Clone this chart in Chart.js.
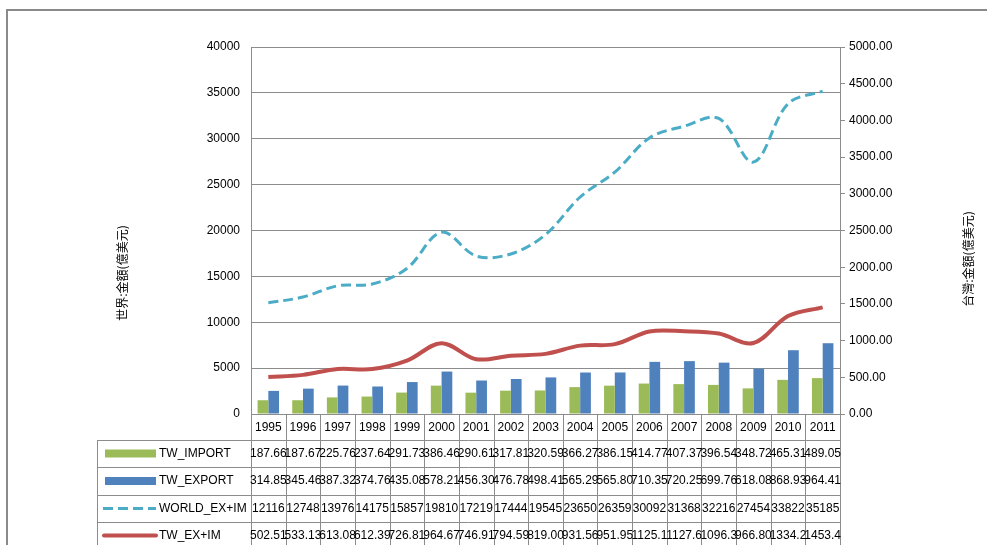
<!DOCTYPE html>
<html>
<head>
<meta charset="utf-8">
<script src="https://cdn.jsdelivr.net/npm/chart.js@4.4.0/dist/chart.umd.min.js"></script>
<style>
  html, body { margin: 0; padding: 0; background: #fff; }
  #wrap { width: 987px; height: 545px; position: relative; }
</style>
</head>
<body>
<div id="wrap"><canvas id="trade"></canvas></div>
<script>
const years = ['1995', '1996', '1997', '1998', '1999', '2000', '2001', '2002', '2003',
               '2004', '2005', '2006', '2007', '2008', '2009', '2010', '2011'];
const twImport = [187.66, 187.67, 225.76, 237.64, 291.73, 386.46, 290.61, 317.81, 320.59,
                  366.27, 386.15, 414.77, 407.37, 396.54, 348.72, 465.31, 489.05];
const twExport = [314.85, 345.46, 387.32, 374.76, 435.08, 578.21, 456.30, 476.78, 498.41,
                  565.29, 565.80, 710.35, 720.25, 699.76, 618.08, 868.93, 964.41];
const worldTotal = [12116, 12748, 13976, 14175, 15857, 19810, 17219, 17444, 19545,
                    23650, 26359, 30092, 31368, 32216, 27454, 33822, 35185];
const twTotal = [502.51, 533.13, 613.08, 612.39, 726.81, 964.67, 746.91, 794.59, 819.00,
                 931.56, 951.95, 1125.12, 1127.62, 1096.30, 966.80, 1334.24, 1453.46];

const seriesNames = ['TW_IMPORT', 'TW_EXPORT', 'WORLD_EX+IM', 'TW_EX+IM'];
const leftTitle = '世界:金額(億美元)';
const rightTitle = '台灣:金額(億美元)';

const GREEN = '#9BBB59', BLUE = '#4F81BD', CYAN = '#4BACC6', RED = '#C0504D';
const GRID = '#8c8c8c';
const FONT = '"Liberation Sans", Arial, sans-serif';

function fmt(v, i) {
  if (i === 2) return String(Math.round(v));
  if (v >= 1000) return (Math.floor(v * 10) / 10).toFixed(1);
  return v.toFixed(2);
}

// frame, axis titles and the data table under the plot
const tablePlugin = {
  id: 'dataTable',
  afterDraw(chart) {
    const ctx = chart.ctx;
    const x = chart.scales.x;
    const area = chart.chartArea;
    const n = years.length;
    const cw = (area.right - area.left) / n;
    const rows = [440, 467, 495, 522, 549];
    const keyLeft = 97;

    ctx.save();
    // outer frame
    ctx.strokeStyle = '#8a8a8a';
    ctx.lineWidth = 2;
    ctx.beginPath();
    ctx.moveTo(7, 545); ctx.lineTo(7, 10); ctx.lineTo(987, 10);
    ctx.stroke();

    // table lines
    ctx.strokeStyle = GRID;
    ctx.lineWidth = 1;
    ctx.beginPath();
    ctx.moveTo(area.left, area.bottom + 0.5); ctx.lineTo(area.right, area.bottom + 0.5);
    rows.forEach(y => { ctx.moveTo(keyLeft, y + 0.5); ctx.lineTo(area.right, y + 0.5); });
    ctx.moveTo(keyLeft + 0.5, rows[0]); ctx.lineTo(keyLeft + 0.5, 545);
    for (let i = 0; i <= n; i++) {
      const px = Math.round(area.left + i * cw) + 0.5;
      ctx.moveTo(px, area.bottom); ctx.lineTo(px, 545);
    }
    ctx.stroke();

    // years
    ctx.fillStyle = '#000';
    ctx.font = '12px ' + FONT;
    ctx.textAlign = 'center';
    ctx.textBaseline = 'middle';
    years.forEach((yr, i) => ctx.fillText(yr, x.getPixelForValue(i), 428));

    // rows
    const data = [twImport, twExport, worldTotal, twTotal];
    data.forEach((arr, r) => {
      const cy = (rows[r] + rows[r + 1]) / 2;
      // legend key
      if (r === 0 || r === 1) {
        ctx.fillStyle = r === 0 ? GREEN : BLUE;
        ctx.fillRect(105, cy - 4, 51, 8);
      } else if (r === 2) {
        ctx.strokeStyle = CYAN;
        ctx.lineWidth = 3;
        ctx.setLineDash([10, 5]);
        ctx.beginPath(); ctx.moveTo(103, cy); ctx.lineTo(156, cy); ctx.stroke();
        ctx.setLineDash([]);
      } else {
        ctx.strokeStyle = RED;
        ctx.lineWidth = 4;
        ctx.lineCap = 'round';
        ctx.beginPath(); ctx.moveTo(104, cy); ctx.lineTo(156, cy); ctx.stroke();
        ctx.lineCap = 'butt';
      }
      ctx.fillStyle = '#000';
      ctx.textAlign = 'left';
      ctx.fillText(seriesNames[r], 159, cy);
      ctx.textAlign = 'center';
      arr.forEach((v, i) => ctx.fillText(fmt(v, r), x.getPixelForValue(i), cy));
    });

    // axis titles
    ctx.font = '12px "Noto Sans CJK TC", sans-serif';
    ctx.textAlign = 'center';
    ctx.textBaseline = 'middle';
    ctx.save();
    ctx.translate(122, 273);
    ctx.rotate(-Math.PI / 2);
    ctx.fillText(leftTitle, 0, 0);
    ctx.restore();
    ctx.save();
    ctx.translate(968, 259);
    ctx.rotate(-Math.PI / 2);
    ctx.fillText(rightTitle, 0, 0);
    ctx.restore();
    ctx.restore();
  }
};

Chart.defaults.font.family = FONT;
Chart.defaults.font.size = 12;
Chart.defaults.color = '#000';

new Chart(document.getElementById('trade'), {
  data: {
    labels: years,
    datasets: [
      { type: 'bar', label: seriesNames[0], data: twImport, yAxisID: 'y1',
        backgroundColor: GREEN, order: 2, categoryPercentage: 0.62, barPercentage: 1.0 },
      { type: 'bar', label: seriesNames[1], data: twExport, yAxisID: 'y1',
        backgroundColor: BLUE, order: 2, categoryPercentage: 0.62, barPercentage: 1.0 },
      { type: 'line', label: seriesNames[2], data: worldTotal, yAxisID: 'y',
        borderColor: CYAN, borderWidth: 3, borderDash: [10, 5], pointRadius: 0,
        tension: 0.35, order: 1 },
      { type: 'line', label: seriesNames[3], data: twTotal, yAxisID: 'y1',
        borderColor: RED, borderWidth: 4, pointRadius: 0, tension: 0.35, order: 0 }
    ]
  },
  options: {
    responsive: true,
    maintainAspectRatio: false,
    animation: false,
    devicePixelRatio: 1,
    layout: { padding: { left: 190, right: 0, top: 47, bottom: 131 } },
    plugins: { legend: { display: false }, tooltip: { enabled: false } },
    scales: {
      x: { display: false },
      y: {
        position: 'left', min: 0, max: 40000,
        ticks: { stepSize: 5000, padding: 11, callback: v => String(v) },
        grid: { color: GRID, drawTicks: false },
        border: { color: GRID },
        afterFit: s => { s.width = 61; }
      },
      y1: {
        position: 'right', min: 0, max: 5000,
        ticks: { stepSize: 500, padding: 4, callback: v => v.toFixed(2) },
        grid: { drawOnChartArea: false, color: GRID, tickLength: 5 },
        border: { color: GRID },
        afterFit: s => { s.width = 147; }
      }
    }
  },
  plugins: [tablePlugin]
});
</script>
</body>
</html>
